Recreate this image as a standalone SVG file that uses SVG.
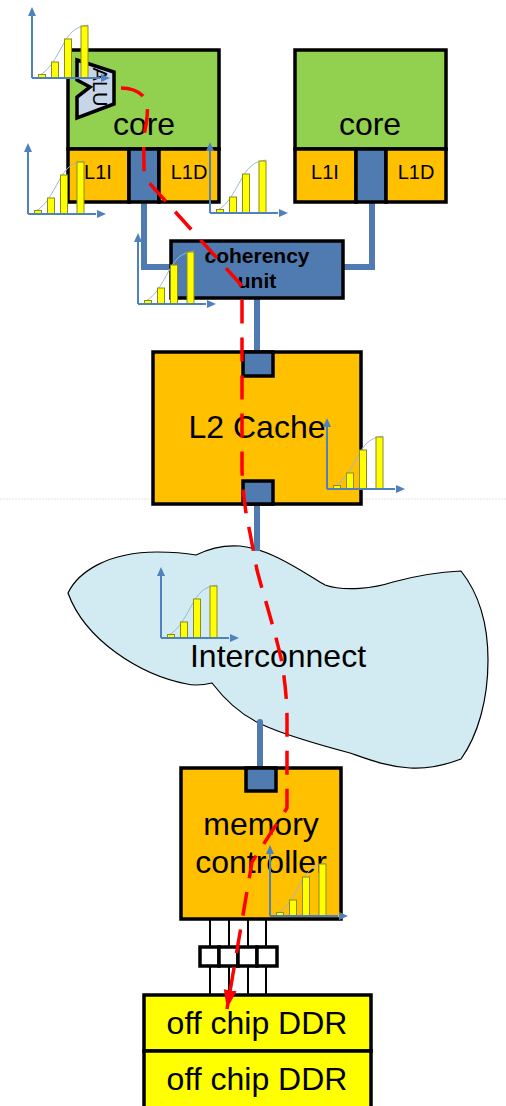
<svg xmlns="http://www.w3.org/2000/svg" width="506" height="1106" viewBox="0 0 506 1106">
<style>
text{font-family:"Liberation Sans",Arial,sans-serif;fill:#000;text-anchor:middle}
.big{font-size:32px}.mid{font-size:20px}
.box{stroke:#000;stroke-width:3.5;stroke-linejoin:miter}
.or{fill:#ffc000}.bl{fill:#4f7bb0}.gr{fill:#92d050}.ye{fill:#ff0}
.conn{fill:none;stroke:#4f7bb0;stroke-width:6}
.wire{stroke:#000;stroke-width:2;fill:none}
.ax{stroke:#4f81bd;stroke-width:2;fill:none}
.bar{fill:#ff0;stroke:#8c8c1e;stroke-width:1}
.cv{fill:none;stroke:#9db7d9;stroke-width:1}
.red{fill:none;stroke:#f00;stroke-width:3.5;stroke-dasharray:24 14}
</style>
<defs>
<symbol id="chart" overflow="visible" width="1" height="1">
<path class="cv" d="M6 -2C20 -8 27 -28 35 -40C42 -50 47 -51 56 -53"/>
<rect class="bar" x="6.500" y="-3.500" width="7" height="3.500"/>
<rect class="bar" x="19.500" y="-16" width="7" height="16"/>
<rect class="bar" x="32.500" y="-39" width="7" height="39"/>
<rect class="bar" x="49" y="-52" width="7" height="52"/>
<path class="ax" d="M0 0V-62M0 0H68"/>
<path fill="#4f81bd" d="M0 -71L-4 -62H4ZM78 0L69 -4V4Z"/>
</symbol>
<marker id="ah" markerUnits="userSpaceOnUse" markerWidth="20" markerHeight="14" refX="19" refY="6.500" orient="auto"><path d="M0 0L19 6.500L0 13Z" fill="#f00"/></marker>
</defs>
<rect width="506" height="1106" fill="#fff"/>
<path d="M0 499H506" stroke="#e6e6dc" stroke-width="1" stroke-dasharray="2 1"/>
<g id="interconnect"><path fill="#d2eaf1" stroke="#000" stroke-width="1.200" d="M68 593C78 572 108 552 157 552C172 552 185 553 196 555C212 547 226 545 240 546C270 549 300 570 325 585C345 592 375 588 393 582C415 576 440 572 461 571C480 595 488 625 488 660C488 700 478 735 461 759C440 767 425 769 410 768C385 766 370 760 350 753C320 745 285 735 263 725C240 715 225 700 212 683C200 686 190 685 187 684C140 675 85 640 68 593Z"/><text class="big" x="278" y="667">Interconnect</text></g>
<g id="connectors">
<path class="conn" d="M144 202V267H171"/>
<path class="conn" d="M372 202V267H343"/>
<path class="conn" d="M257 298V353"/>
<path class="conn" d="M257 504V551"/>
<path class="conn" stroke-linecap="round" d="M260 722V768"/>
<path class="wire" d="M210 919V995M229 919V995M248 919V995M266 919V995"/>
</g>
<g id="core1">
<rect class="box gr" x="68" y="50" width="151" height="99"/>
<rect class="box or" x="68" y="149" width="61" height="53"/>
<rect class="box bl" x="129" y="149" width="30" height="53"/>
<rect class="box or" x="159" y="149" width="60" height="53"/>
<text class="big" x="144" y="135">core</text>
<text class="mid" x="98" y="179">L1I</text>
<text class="mid" x="189" y="179">L1D</text>
</g>
<g id="alu"><path fill="#c6d5e8" stroke="#000" stroke-width="3.500" d="M77 60L114 72V104L77 118V97L90 87L77 80Z"/><text font-size="20" transform="translate(93 87) rotate(90)" x="0" y="0">ALU</text></g>
<g id="core2">
<rect class="box gr" x="295" y="50" width="151" height="99"/>
<rect class="box or" x="295" y="149" width="61" height="53"/>
<rect class="box bl" x="356" y="149" width="30" height="53"/>
<rect class="box or" x="386" y="149" width="60" height="53"/>
<text class="big" x="370" y="135">core</text>
<text class="mid" x="325" y="179">L1I</text>
<text class="mid" x="416" y="179">L1D</text>
</g>
<g id="coherency"><rect class="box bl" x="171" y="241" width="172" height="57"/><text font-size="21" font-weight="bold" x="257" y="263">coherency</text><text font-size="21" font-weight="bold" x="257" y="288">unit</text></g>
<g id="l2"><rect class="box or" x="153" y="352" width="208" height="152"/><rect class="box bl" x="243" y="352" width="30" height="24"/><rect class="box bl" x="243" y="481" width="30" height="23"/><text class="big" x="257" y="438">L2 Cache</text></g>
<g id="mc"><rect class="box or" x="181" y="768" width="160" height="151"/><rect class="box bl" x="246" y="768" width="30" height="23"/><text class="big" x="261" y="835">memory</text><text class="big" x="261" y="873">controller</text></g>
<g id="buffers"><g class="box" fill="#fff"><rect x="200" y="947" width="19" height="19"/><rect x="219" y="947" width="19" height="19"/><rect x="238" y="947" width="19" height="19"/><rect x="257" y="947" width="20" height="19"/></g></g>
<g id="ddr1"><rect class="box ye" x="144" y="995" width="227" height="56"/><text class="big" x="257" y="1034">off chip DDR</text></g>
<g id="ddr2"><rect class="box ye" x="144" y="1051" width="227" height="58"/><text class="big" x="257" y="1090">off chip DDR</text></g>
<g id="charts">
<use href="#chart" x="32" y="78"/>
<use href="#chart" x="28" y="214"/>
<use href="#chart" x="210" y="213"/>
<use href="#chart" x="138" y="304"/>
<use href="#chart" x="327" y="489"/>
<use href="#chart" x="161" y="638"/>
<use href="#chart" x="270" y="916"/>
</g>
<g id="flow"><path class="red" marker-end="url(#ah)" d="M121 88C130 88 138 91 143 96C149 104 148 115 145 130C143 140 144 155 144 170C145 180 148 181 152 186L243 287L242 300V470C243 495 245 510 250 533L257 570C262 590 272 620 281 658C285 680 287 700 287 720V808L252 862L227 1009"/></g>
</svg>
